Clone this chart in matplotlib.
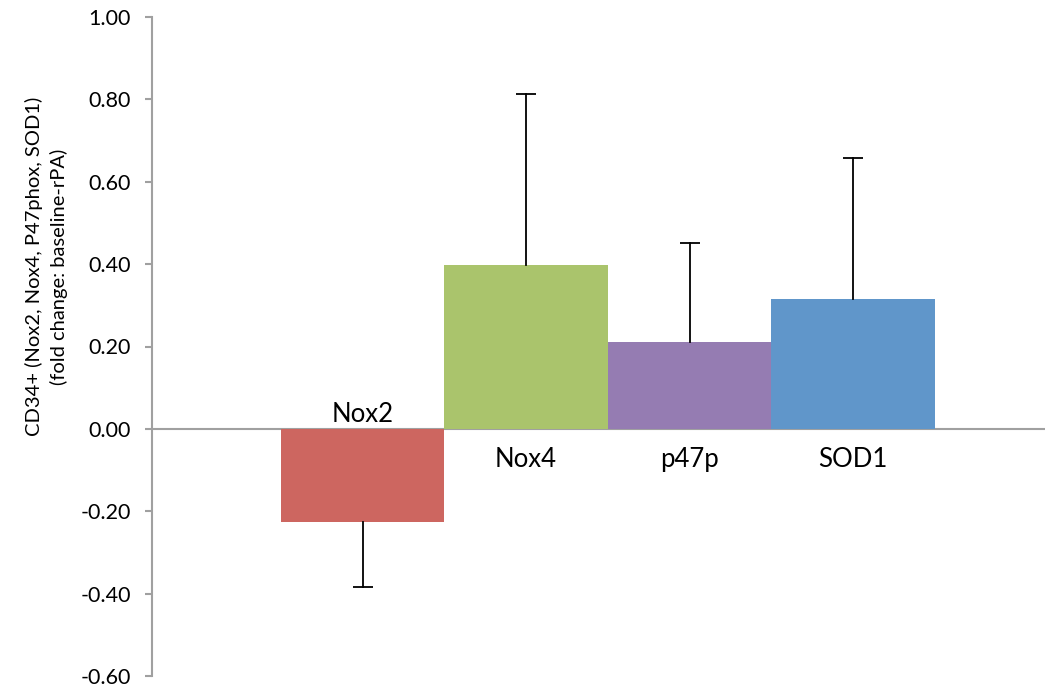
import matplotlib
matplotlib.use("Agg")
import matplotlib.pyplot as plt

# values
genes = ["Nox2", "Nox4", "p47p", "SOD1"]
means = [-0.226, 0.398, 0.211, 0.316]
errors = [0.157, 0.415, 0.240, 0.342]
colors = ["#CD6660", "#AAC46C", "#957CB2", "#6096CA"]
yticks = [-0.6, -0.4, -0.2, 0.0, 0.2, 0.4, 0.6, 0.8, 1.0]

plt.rcParams['font.family'] = ['Lato', 'DejaVu Sans']

fig = plt.figure(figsize=(10.47, 6.93), dpi=100)
ax = fig.add_axes([0.145, 0.0245, 0.853, 0.951])

xs = list(range(len(genes)))
for x, m, e, c in zip(xs, means, errors, colors):
    ax.bar(x, m, width=1.0, color=c, zorder=2)
    end = m - e if m < 0 else m + e
    ax.plot([x, x], [m, end], color="black", lw=1.3, zorder=3)
    ax.plot([x], [end], marker="_", markersize=15, mew=1.3, color="black", zorder=3)

# series labels: negative bar above the zero line, positive ones below
for x, m, name in zip(xs, means, genes):
    ly = 0.036 if m < 0 else -0.075
    ax.text(x, ly, name, ha="center", va="center", fontsize=18.5)

ax.axhline(0, color="#A0A0A0", lw=1.5, zorder=1)

ax.set_xlim(-1.289, 4.173)
ax.set_ylim(-0.6, 1.0)
ax.set_yticks(yticks)
ax.set_yticklabels(["%.2f" % v for v in yticks], fontsize=15.5)
ax.set_xticks([])

for s in ["top", "right", "bottom"]:
    ax.spines[s].set_visible(False)
ax.spines["left"].set_color("#A0A0A0")
ax.spines["left"].set_linewidth(1.5)
ax.tick_params(axis="y", length=5, width=1.5, color="#A0A0A0", pad=10)

ax.set_ylabel("CD34+ (Nox2, Nox4, P47phox, SOD1)\n(fold change: baseline-rPA)",
              fontsize=14.5, linespacing=1.45)
ax.yaxis.set_label_coords(-0.094, 0.621)

fig.savefig("out.png", dpi=100)
